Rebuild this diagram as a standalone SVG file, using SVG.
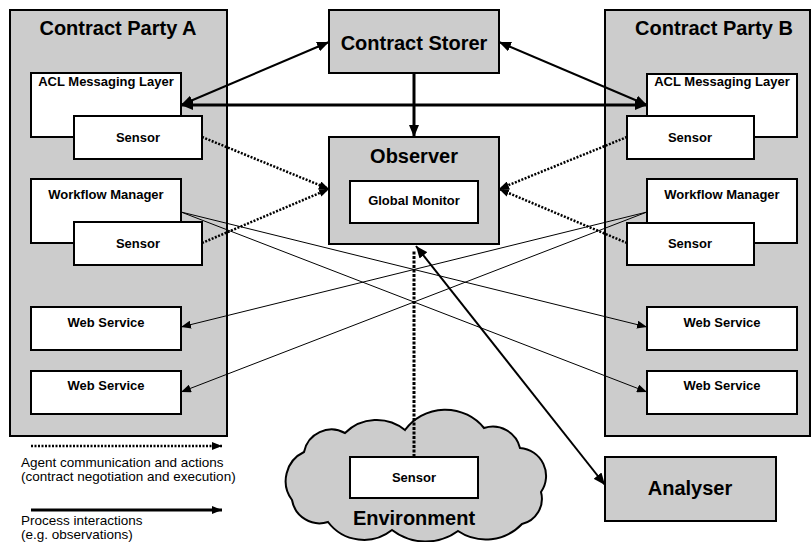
<svg xmlns="http://www.w3.org/2000/svg" width="811" height="542" viewBox="0 0 811 542">
<style>
.bg{fill:#cccccc;stroke:#000;stroke-width:2}
.wb{fill:#ffffff;stroke:#000;stroke-width:2}
.big{font-family:"Liberation Sans",Arial,sans-serif;font-weight:bold;font-size:20px;text-anchor:middle;fill:#000}
.sm{font-family:"Liberation Sans",Arial,sans-serif;font-weight:bold;font-size:13px;text-anchor:middle;fill:#000}
.leg{font-family:"Liberation Sans",Arial,sans-serif;font-size:13.5px;fill:#000}
.thick{stroke:#000;stroke-width:3;fill:none}
.med{stroke:#000;stroke-width:2;fill:none}
.thin{stroke:#000;stroke-width:1;fill:none}
.dot{stroke:#000;stroke-width:2.5;stroke-dasharray:2 1.5;fill:none}
.vdot{stroke:#000;stroke-width:3;stroke-dasharray:3 1.5;fill:none}
</style>
<defs>
<marker id="ah" viewBox="0 0 12 10" refX="12" refY="5" markerWidth="12" markerHeight="10" markerUnits="userSpaceOnUse" orient="auto-start-reverse"><path d="M0,0 L12,5 L0,10 z" fill="#000"/></marker>
<marker id="as" viewBox="0 0 10 8" refX="10" refY="4" markerWidth="10" markerHeight="8" markerUnits="userSpaceOnUse" orient="auto-start-reverse"><path d="M0,0 L10,4 L0,8 z" fill="#000"/></marker>
</defs>

<g id="partyA">
<rect class="bg" x="10" y="10" width="217" height="426"/>
<text class="big" x="118" y="35">Contract Party A</text>
</g>
<g id="aclA"><rect class="wb" x="31" y="73" width="150" height="64"/><text class="sm" x="106" y="86">ACL Messaging Layer</text></g>
<g id="sensorA1"><rect class="wb" x="74" y="116" width="128" height="43"/><text class="sm" x="138" y="142">Sensor</text></g>
<g id="wfA"><rect class="wb" x="31" y="179" width="150" height="64"/><text class="sm" x="106" y="199">Workflow Manager</text></g>
<g id="sensorA2"><rect class="wb" x="74" y="222" width="128" height="43"/><text class="sm" x="138" y="248">Sensor</text></g>
<g id="wsA1"><rect class="wb" x="31" y="307" width="150" height="43"/><text class="sm" x="106" y="327">Web Service</text></g>
<g id="wsA2"><rect class="wb" x="31" y="371" width="150" height="43"/><text class="sm" x="106" y="390">Web Service</text></g>

<g id="partyB">
<rect class="bg" x="605" y="10" width="205" height="426"/>
<text class="big" x="714" y="35">Contract Party B</text>
</g>
<g id="aclB"><rect class="wb" x="647" y="74" width="150" height="63"/><text class="sm" x="722" y="86">ACL Messaging Layer</text></g>
<g id="sensorB1"><rect class="wb" x="627" y="116" width="127" height="43"/><text class="sm" x="690" y="142">Sensor</text></g>
<g id="wfB"><rect class="wb" x="647" y="179" width="150" height="64"/><text class="sm" x="722" y="199">Workflow Manager</text></g>
<g id="sensorB2"><rect class="wb" x="627" y="223" width="127" height="42"/><text class="sm" x="690" y="248">Sensor</text></g>
<g id="wsB1"><rect class="wb" x="647" y="307" width="150" height="43"/><text class="sm" x="722" y="327">Web Service</text></g>
<g id="wsB2"><rect class="wb" x="647" y="371" width="150" height="43"/><text class="sm" x="722" y="390">Web Service</text></g>

<g id="storer"><rect class="bg" x="329" y="10" width="170" height="63"/><text class="big" x="414" y="50">Contract Storer</text></g>
<g id="observer"><rect class="bg" x="329" y="137" width="170" height="107"/><text class="big" x="414" y="163">Observer</text></g>
<g id="globalMonitor"><rect class="wb" x="350" y="181" width="128" height="42"/><text class="sm" x="414" y="205">Global Monitor</text></g>

<g id="environment">
<path class="bg" d="M292,500 A32,32 0 0 1 304,452 A28,28 0 0 1 345,433 A45,45 0 0 1 405,430 A50,50 0 0 1 484,428 A28,28 0 0 1 520,448 A28,28 0 0 1 541,492 A26,26 0 0 1 522,524 A50,50 0 0 1 458,531 A55,55 0 0 1 392,530 A45,45 0 0 1 328,522 A28,28 0 0 1 292,500 Z"/>
<text class="big" x="414" y="525">Environment</text>
</g>
<g id="sensorEnv"><rect class="wb" x="350" y="457" width="128" height="41"/><text class="sm" x="414" y="482">Sensor</text></g>

<g id="analyser"><rect class="bg" x="605" y="457" width="171" height="64"/><text class="big" x="690" y="495">Analyser</text></g>

<g id="connectors">
<line class="thick" x1="414" y1="73" x2="414" y2="137" marker-end="url(#ah)"/>
<line class="thick" x1="181" y1="105" x2="647" y2="105" marker-start="url(#ah)" marker-end="url(#ah)"/>
<line class="med" x1="181" y1="105" x2="329" y2="42" marker-start="url(#ah)" marker-end="url(#ah)"/>
<line class="med" x1="647" y1="105" x2="499" y2="42" marker-start="url(#ah)" marker-end="url(#ah)"/>
<line class="dot" x1="202" y1="137" x2="329" y2="189" marker-end="url(#as)"/>
<line class="dot" x1="202" y1="243" x2="329" y2="189" marker-end="url(#as)"/>
<line class="dot" x1="627" y1="137" x2="499" y2="189" marker-end="url(#as)"/>
<line class="dot" x1="627" y1="243" x2="499" y2="189" marker-end="url(#as)"/>
<line class="thin" x1="181" y1="212" x2="647" y2="327" marker-end="url(#as)"/>
<line class="thin" x1="181" y1="212" x2="647" y2="392" marker-end="url(#as)"/>
<line class="thin" x1="647" y1="212" x2="181" y2="327" marker-end="url(#as)"/>
<line class="thin" x1="647" y1="212" x2="181" y2="392" marker-end="url(#as)"/>
<line class="vdot" x1="414" y1="457" x2="414" y2="250"/>
<line class="med" x1="416" y1="246" x2="605" y2="485" marker-start="url(#ah)" marker-end="url(#ah)"/>
</g>

<g id="legend">
<line class="dot" x1="31" y1="446" x2="222" y2="446" marker-end="url(#as)"/>
<text class="leg" x="21" y="467">Agent communication and actions</text>
<text class="leg" x="21" y="481">(contract negotiation and execution)</text>
<line class="thick" x1="31" y1="510" x2="222" y2="510" marker-end="url(#as)"/>
<text class="leg" x="21" y="525">Process interactions</text>
<text class="leg" x="21" y="539">(e.g. observations)</text>
</g>
</svg>
